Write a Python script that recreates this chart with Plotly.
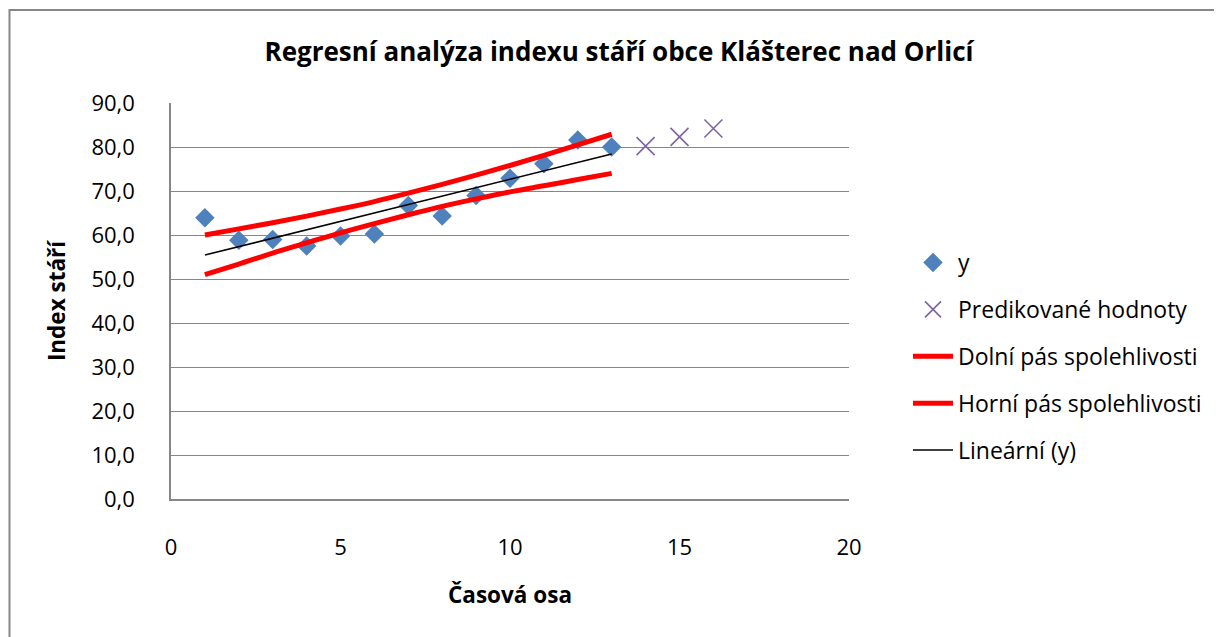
import numpy as np
import plotly.graph_objects as go

# ---- data ----
time_x = [1, 2, 3, 4, 5, 6, 7, 8, 9, 10, 11, 12, 13]
index_y = [63.9, 58.8, 59.0, 57.5, 59.8, 60.2, 66.7, 64.3, 69.0, 72.9, 76.2, 81.6, 80.0]
pred_x = [14, 15, 16]
pred_y = [80.2, 82.3, 84.2]
lower_band = [51.0, 53.4, 55.9, 58.2, 60.5, 62.6, 64.6, 66.5, 68.2, 69.8, 71.2, 72.6, 74.0]
upper_band = [60.0, 61.4, 62.8, 64.3, 65.9, 67.6, 69.5, 71.5, 73.6, 75.8, 78.1, 80.5, 82.9]
y_ticks = [0, 10, 20, 30, 40, 50, 60, 70, 80, 90]
x_ticks = [0, 5, 10, 15, 20]

# linear trendline fitted to y (as the spreadsheet's "Lineární (y)")
coef = np.polyfit(time_x, index_y, 1)
trend_x = [time_x[0], time_x[-1]]
trend_y = list(np.polyval(coef, trend_x))

FONT = "Open Sans"
fig = go.Figure()
fig.add_trace(go.Scatter(x=time_x, y=index_y, mode="markers", name="y",
                         legendgroup="a",
                         marker=dict(symbol="diamond", size=15, color="#4F81BD")))
fig.add_trace(go.Scatter(x=pred_x, y=pred_y, mode="markers", name="Predikované hodnoty",
                         legendgroup="b",
                         marker=dict(symbol="x-thin", size=18, color="#8064A2",
                                     line=dict(color="#8064A2", width=1.6))))
fig.add_trace(go.Scatter(x=time_x, y=lower_band, mode="lines", name="Dolní pás spolehlivosti",
                         legendgroup="c",
                         line=dict(color="#FF0000", width=5, shape="spline")))
fig.add_trace(go.Scatter(x=time_x, y=upper_band, mode="lines", name="Horní pás spolehlivosti",
                         legendgroup="d",
                         line=dict(color="#FF0000", width=5, shape="spline")))
fig.add_trace(go.Scatter(x=trend_x, y=trend_y, mode="lines", name="Lineární (y)",
                         legendgroup="e",
                         line=dict(color="#000000", width=1.5)))

OFF = 8  # page body margin
W, H = 1214, 629
pw, ph = 678, 396
L, T = 171 - OFF, 103 - OFF
R, B = W - L - pw, H - T - ph

def px_to_paper_x(px):
    return (px - OFF - L) / pw

def px_to_paper_y(py):
    return (T + ph - (py - OFF)) / ph

fig.update_layout(
    width=W, height=H,
    margin=dict(l=L, r=R, t=T, b=B),
    paper_bgcolor="white", plot_bgcolor="white",
    separators=", ",
    font=dict(family=FONT, size=22, color="#000000"),
    title=dict(text="<b>Regresní analýza indexu stáří obce Klášterec nad Orlicí</b>",
               x=px_to_paper_x(619), xref="paper", xanchor="center",
               y=1 - (52 - OFF) / H, yanchor="middle",
               font=dict(family=FONT, size=26, color="#000000")),
    xaxis=dict(range=[0, 20], tickvals=x_ticks, showgrid=False, zeroline=False,
               showline=True, linecolor="#868686", linewidth=1.5,
               ticks="", ticklabelstandoff=28,
               tickfont=dict(size=22),
               title=dict(text="<b>Časová osa</b>", font=dict(size=22.5), standoff=27)),
    yaxis=dict(range=[0, 90], tickvals=y_ticks, tickformat=".1f",
               showgrid=True, gridcolor="#868686", gridwidth=1, zeroline=False,
               showline=True, linecolor="#868686", linewidth=1.5,
               ticks="", ticklabelstandoff=30,
               tickfont=dict(size=22),
               title=dict(text="<b>Index stáří</b>", font=dict(size=22.5), standoff=20)),
    legend=dict(x=px_to_paper_x(908), y=px_to_paper_y(241), xanchor="left", yanchor="top",
                font=dict(size=23), tracegroupgap=14, bgcolor="rgba(0,0,0,0)",
                itemwidth=40),
    showlegend=True,
    shapes=[dict(type="rect", xref="paper", yref="paper",
                 x0=px_to_paper_x(9.5), x1=px_to_paper_x(1260),
                 y0=px_to_paper_y(680), y1=px_to_paper_y(10),
                 line=dict(color="#868686", width=2), fillcolor="rgba(0,0,0,0)",
                 layer="below")],
)

fig.write_html("out.html", post_script="document.body.style.overflow='hidden';")
